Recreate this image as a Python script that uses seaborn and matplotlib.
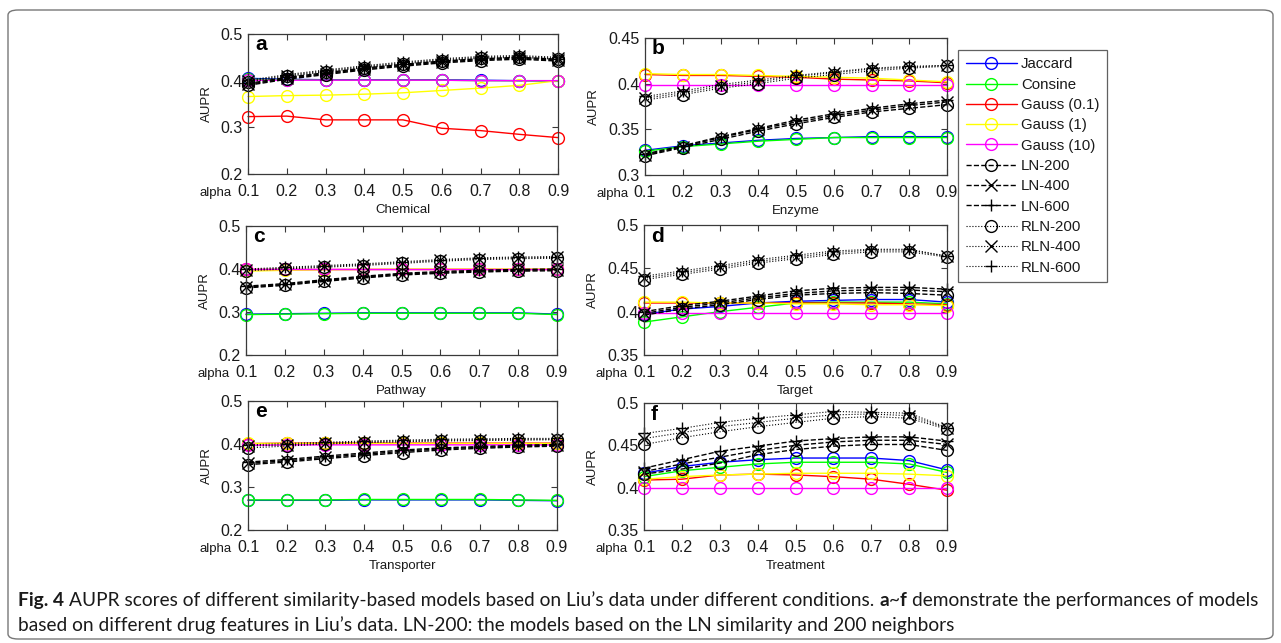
import matplotlib
matplotlib.use("Agg")
import matplotlib.pyplot as plt
from matplotlib.patches import FancyBboxPatch
import seaborn as sns

W, H = 1281, 643

# ---------------- data ----------------
alpha = [0.1, 0.2, 0.3, 0.4, 0.5, 0.6, 0.7, 0.8, 0.9]
alpha_labels = ["0.1", "0.2", "0.3", "0.4", "0.5", "0.6", "0.7", "0.8", "0.9"]
models = ["Jaccard", "Consine", "Gauss (0.1)", "Gauss (1)", "Gauss (10)",
          "LN-200", "LN-400", "LN-600", "RLN-200", "RLN-400", "RLN-600"]
panel_letters = ["a", "b", "c", "d", "e", "f"]
panel_features = ["Chemical", "Enzyme", "Pathway", "Target", "Transporter", "Treatment"]
yticks_a = [0.2, 0.3, 0.4, 0.5]
yticks_b = [0.3, 0.35, 0.4, 0.45]
yticks_c = [0.2, 0.3, 0.4, 0.5]
yticks_d = [0.35, 0.4, 0.45, 0.5]
yticks_e = [0.2, 0.3, 0.4, 0.5]
yticks_f = [0.35, 0.4, 0.45, 0.5]

# (a) Chemical
chem_jaccard = [0.405, 0.403, 0.402, 0.402, 0.402, 0.402, 0.401, 0.400, 0.400]
chem_consine = [0.403, 0.402, 0.401, 0.401, 0.401, 0.401, 0.400, 0.400, 0.399]
chem_gauss01 = [0.323, 0.324, 0.316, 0.316, 0.316, 0.298, 0.293, 0.285, 0.278]
chem_gauss1 = [0.366, 0.368, 0.369, 0.371, 0.374, 0.379, 0.384, 0.390, 0.400]
chem_gauss10 = [0.401, 0.401, 0.401, 0.401, 0.401, 0.401, 0.400, 0.400, 0.400]
chem_ln200 = [0.390, 0.403, 0.413, 0.423, 0.431, 0.438, 0.443, 0.446, 0.442]
chem_ln400 = [0.392, 0.405, 0.415, 0.425, 0.433, 0.440, 0.445, 0.448, 0.444]
chem_ln600 = [0.394, 0.407, 0.417, 0.427, 0.435, 0.442, 0.447, 0.450, 0.446]
chem_rln200 = [0.397, 0.409, 0.419, 0.428, 0.436, 0.443, 0.448, 0.450, 0.446]
chem_rln400 = [0.399, 0.411, 0.421, 0.430, 0.438, 0.445, 0.450, 0.452, 0.448]
chem_rln600 = [0.401, 0.413, 0.423, 0.432, 0.440, 0.447, 0.452, 0.454, 0.450]

# (b) Enzyme
enz_jaccard = [0.327, 0.332, 0.335, 0.338, 0.340, 0.341, 0.342, 0.342, 0.342]
enz_consine = [0.326, 0.331, 0.334, 0.337, 0.339, 0.341, 0.341, 0.341, 0.341]
enz_gauss01 = [0.410, 0.409, 0.409, 0.408, 0.407, 0.405, 0.404, 0.403, 0.401]
enz_gauss1 = [0.411, 0.410, 0.410, 0.409, 0.408, 0.407, 0.406, 0.404, 0.402]
enz_gauss10 = [0.399, 0.399, 0.399, 0.399, 0.399, 0.399, 0.399, 0.399, 0.399]
enz_ln200 = [0.321, 0.330, 0.339, 0.348, 0.356, 0.363, 0.369, 0.373, 0.377]
enz_ln400 = [0.322, 0.331, 0.341, 0.350, 0.358, 0.365, 0.371, 0.376, 0.380]
enz_ln600 = [0.323, 0.332, 0.342, 0.351, 0.360, 0.367, 0.373, 0.378, 0.382]
enz_rln200 = [0.382, 0.388, 0.395, 0.400, 0.406, 0.410, 0.414, 0.417, 0.419]
enz_rln400 = [0.384, 0.390, 0.397, 0.402, 0.408, 0.412, 0.416, 0.418, 0.420]
enz_rln600 = [0.386, 0.392, 0.399, 0.404, 0.409, 0.413, 0.417, 0.419, 0.420]

# (c) Pathway
path_jaccard = [0.295, 0.296, 0.297, 0.298, 0.298, 0.298, 0.298, 0.298, 0.295]
path_consine = [0.294, 0.295, 0.296, 0.297, 0.297, 0.297, 0.297, 0.297, 0.294]
path_gauss01 = [0.400, 0.400, 0.400, 0.400, 0.400, 0.400, 0.400, 0.400, 0.400]
path_gauss1 = [0.395, 0.397, 0.398, 0.399, 0.400, 0.400, 0.400, 0.400, 0.400]
path_gauss10 = [0.401, 0.401, 0.401, 0.401, 0.401, 0.401, 0.401, 0.401, 0.401]
path_ln200 = [0.356, 0.362, 0.371, 0.379, 0.386, 0.390, 0.393, 0.395, 0.396]
path_ln400 = [0.358, 0.364, 0.373, 0.381, 0.388, 0.392, 0.395, 0.397, 0.398]
path_ln600 = [0.360, 0.366, 0.375, 0.383, 0.390, 0.394, 0.397, 0.399, 0.400]
path_rln200 = [0.396, 0.400, 0.404, 0.408, 0.413, 0.418, 0.422, 0.424, 0.425]
path_rln400 = [0.398, 0.402, 0.406, 0.410, 0.415, 0.420, 0.424, 0.426, 0.427]
path_rln600 = [0.400, 0.404, 0.408, 0.412, 0.417, 0.422, 0.426, 0.428, 0.429]

# (d) Target
targ_jaccard = [0.397, 0.403, 0.406, 0.410, 0.412, 0.413, 0.414, 0.414, 0.411]
targ_consine = [0.388, 0.394, 0.400, 0.405, 0.410, 0.411, 0.411, 0.411, 0.409]
targ_gauss01 = [0.410, 0.410, 0.410, 0.410, 0.410, 0.410, 0.410, 0.409, 0.408]
targ_gauss1 = [0.411, 0.411, 0.410, 0.410, 0.409, 0.409, 0.408, 0.408, 0.407]
targ_gauss10 = [0.399, 0.399, 0.399, 0.399, 0.399, 0.399, 0.399, 0.399, 0.399]
targ_ln200 = [0.396, 0.403, 0.408, 0.414, 0.419, 0.421, 0.422, 0.421, 0.419]
targ_ln400 = [0.398, 0.405, 0.410, 0.416, 0.421, 0.424, 0.425, 0.425, 0.423]
targ_ln600 = [0.400, 0.407, 0.412, 0.418, 0.424, 0.427, 0.428, 0.428, 0.426]
targ_rln200 = [0.437, 0.443, 0.449, 0.456, 0.461, 0.466, 0.469, 0.469, 0.463]
targ_rln400 = [0.439, 0.445, 0.451, 0.458, 0.463, 0.468, 0.471, 0.471, 0.464]
targ_rln600 = [0.441, 0.447, 0.453, 0.460, 0.465, 0.470, 0.472, 0.472, 0.464]

# (e) Transporter
trans_jaccard = [0.269, 0.269, 0.269, 0.270, 0.270, 0.270, 0.270, 0.269, 0.268]
trans_consine = [0.270, 0.270, 0.270, 0.271, 0.271, 0.271, 0.271, 0.270, 0.269]
trans_gauss01 = [0.401, 0.402, 0.402, 0.402, 0.402, 0.402, 0.402, 0.402, 0.402]
trans_gauss1 = [0.403, 0.403, 0.403, 0.403, 0.403, 0.403, 0.403, 0.403, 0.403]
trans_gauss10 = [0.397, 0.398, 0.398, 0.398, 0.398, 0.398, 0.398, 0.398, 0.398]
trans_ln200 = [0.352, 0.358, 0.366, 0.373, 0.380, 0.386, 0.390, 0.393, 0.395]
trans_ln400 = [0.355, 0.361, 0.369, 0.376, 0.383, 0.389, 0.392, 0.395, 0.397]
trans_ln600 = [0.358, 0.364, 0.372, 0.379, 0.386, 0.391, 0.394, 0.397, 0.399]
trans_rln200 = [0.391, 0.395, 0.400, 0.403, 0.405, 0.407, 0.408, 0.409, 0.410]
trans_rln400 = [0.395, 0.398, 0.402, 0.405, 0.407, 0.409, 0.410, 0.411, 0.411]
trans_rln600 = [0.398, 0.401, 0.404, 0.407, 0.409, 0.411, 0.412, 0.413, 0.413]

# (f) Treatment
treat_jaccard = [0.417, 0.425, 0.430, 0.433, 0.435, 0.435, 0.435, 0.432, 0.421]
treat_consine = [0.413, 0.420, 0.424, 0.428, 0.430, 0.430, 0.430, 0.428, 0.418]
treat_gauss01 = [0.409, 0.410, 0.415, 0.416, 0.415, 0.413, 0.410, 0.404, 0.397]
treat_gauss1 = [0.410, 0.413, 0.415, 0.416, 0.417, 0.417, 0.417, 0.416, 0.414]
treat_gauss10 = [0.400, 0.400, 0.400, 0.400, 0.400, 0.400, 0.400, 0.400, 0.400]
treat_ln200 = [0.416, 0.422, 0.429, 0.439, 0.445, 0.449, 0.451, 0.451, 0.444]
treat_ln400 = [0.419, 0.428, 0.436, 0.444, 0.450, 0.454, 0.456, 0.456, 0.451]
treat_ln600 = [0.423, 0.433, 0.443, 0.449, 0.455, 0.458, 0.460, 0.460, 0.455]
treat_rln200 = [0.451, 0.459, 0.466, 0.472, 0.477, 0.482, 0.484, 0.482, 0.469]
treat_rln400 = [0.458, 0.465, 0.472, 0.477, 0.482, 0.486, 0.487, 0.485, 0.470]
treat_rln600 = [0.464, 0.470, 0.477, 0.482, 0.486, 0.490, 0.489, 0.488, 0.471]

caption_line1 = [("Fig. 4", "bold"),
                 (" AUPR scores of different similarity-based models based on Liu\u2019s data under different conditions. ", "normal"),
                 ("a", "bold"), ("~", "normal"), ("f", "bold"),
                 (" demonstrate the performances of models", "normal")]
caption_line2 = [("based on different drug features in Liu\u2019s data. LN-200: the models based on the LN similarity and 200 neighbors", "normal")]

panels_data = [
    [chem_jaccard, chem_consine, chem_gauss01, chem_gauss1, chem_gauss10,
     chem_ln200, chem_ln400, chem_ln600, chem_rln200, chem_rln400, chem_rln600],
    [enz_jaccard, enz_consine, enz_gauss01, enz_gauss1, enz_gauss10,
     enz_ln200, enz_ln400, enz_ln600, enz_rln200, enz_rln400, enz_rln600],
    [path_jaccard, path_consine, path_gauss01, path_gauss1, path_gauss10,
     path_ln200, path_ln400, path_ln600, path_rln200, path_rln400, path_rln600],
    [targ_jaccard, targ_consine, targ_gauss01, targ_gauss1, targ_gauss10,
     targ_ln200, targ_ln400, targ_ln600, targ_rln200, targ_rln400, targ_rln600],
    [trans_jaccard, trans_consine, trans_gauss01, trans_gauss1, trans_gauss10,
     trans_ln200, trans_ln400, trans_ln600, trans_rln200, trans_rln400, trans_rln600],
    [treat_jaccard, treat_consine, treat_gauss01, treat_gauss1, treat_gauss10,
     treat_ln200, treat_ln400, treat_ln600, treat_rln200, treat_rln400, treat_rln600],
]
panels_yticks = [yticks_a, yticks_b, yticks_c, yticks_d, yticks_e, yticks_f]

# ---------------- styles ----------------
model_colors = ["#0000ff", "#00ff00", "#ff0000", "#ffff00", "#ff00ff",
                "black", "black", "black", "black", "black", "black"]
model_ls = ["-", "-", "-", "-", "-", "--", "--", "--", ":", ":", ":"]
model_lw = [1.0, 1.0, 1.0, 1.0, 1.0, 1.0, 1.0, 1.0, 0.8, 0.8, 0.8]
model_markers = ["o", "o", "o", "o", "o", "o", "x", "+", "o", "x", "+"]

# axes boxes in pixels: left, right, top, bottom
panel_boxes = [(248, 558, 34, 174), (645, 947, 38, 175),
               (246, 557, 226, 355), (644, 947, 225, 355),
               (248, 557, 401, 530), (644, 947, 403, 530)]

sns.set_theme(style="white")
plt.rcParams["font.family"] = ["Liberation Sans", "DejaVu Sans"]
plt.rcParams["axes.edgecolor"] = "#3a3a3a"
plt.rcParams["axes.linewidth"] = 0.9

fig = plt.figure(figsize=(W / 100, H / 100), dpi=100)
fig.patch.set_facecolor("white")

spine_col = "#3a3a3a"
text_col = "#1a1a1a"
axes = []
for p in range(6):
    l, r, t, b = panel_boxes[p]
    ax = fig.add_axes([l / W, 1 - b / H, (r - l) / W, (b - t) / H])
    axes.append(ax)
    ax.set_facecolor("white")
    for i, name in enumerate(models):
        sns.lineplot(x=alpha, y=panels_data[p][i], ax=ax, color=model_colors[i],
                     linestyle=model_ls[i], linewidth=model_lw[i],
                     marker=model_markers[i], markersize=8.5,
                     markerfacecolor="none", markeredgecolor=model_colors[i],
                     markeredgewidth=1.0, clip_on=False, label=name, legend=False)
    if ax.get_legend() is not None:
        ax.get_legend().remove()
    yt = panels_yticks[p]
    ax.set_xlim(0.1, 0.9)
    ax.set_ylim(yt[0], yt[-1])
    ax.set_xticks(alpha)
    ax.set_xticklabels(alpha_labels)
    ax.set_yticks(yt)
    ax.set_yticklabels([f"{v:g}" for v in yt])
    ax.tick_params(axis="both", which="both", direction="in", top=True, right=True,
                   bottom=True, left=True, length=4, width=0.8, color=spine_col,
                   labelsize=11.5, labelcolor=text_col)
    ax.tick_params(axis="x", pad=7)
    ax.tick_params(axis="y", pad=4)
    for s in ax.spines.values():
        s.set_color(spine_col)
        s.set_linewidth(0.9)
    wpx = r - l
    hpx = b - t
    ax.set_xlabel(panel_features[p], fontsize=9.5, color=text_col)
    ax.xaxis.set_label_coords(0.5, -36 / hpx)
    ax.xaxis.label.set_va("center")
    ax.set_ylabel("AUPR", fontsize=9.5, color=text_col)
    ylab_off = 41 if p in (0, 2, 4) else 51
    ax.yaxis.set_label_coords(-ylab_off / wpx, 0.5)
    ax.yaxis.label.set_va("center")
    ax.annotate("alpha", xy=(0, 0), xycoords="axes fraction", xytext=(-16, -19),
                textcoords="offset pixels", ha="right", va="center", fontsize=9.5,
                color=text_col)
    ax.annotate(panel_letters[p], xy=(0, 1), xycoords="axes fraction", xytext=(7, -11),
                textcoords="offset pixels", ha="left", va="center", fontsize=15,
                fontweight="bold", color="black")

# legend
handles, labels = axes[1].get_legend_handles_labels()
leg = fig.legend(handles, labels, loc="upper left",
                 bbox_to_anchor=(958 / W, 1 - 50 / H), bbox_transform=fig.transFigure,
                 frameon=True, fancybox=False, fontsize=10.8, handlelength=3.4,
                 handletextpad=0.3, labelspacing=0.42, borderpad=0.5,
                 borderaxespad=0.0, numpoints=1)
leg.get_frame().set_edgecolor(spine_col)
leg.get_frame().set_linewidth(0.9)
for t in leg.get_texts():
    t.set_color(text_col)

# outer rounded border
border = FancyBboxPatch((8 / W, 4 / H), (1273 - 8) / W, (640 - 11) / H,
                        boxstyle="round,pad=0,rounding_size=0.008",
                        transform=fig.transFigure, facecolor="none",
                        edgecolor="#777777", linewidth=1.0)
fig.patches.append(border)

# caption
renderer = fig.canvas.get_renderer()
cap_family = ["Lato", "DejaVu Sans"]


def advance(s, size, weight):
    t1 = fig.text(0, 0, "X" + s + "X", fontsize=size, fontweight=weight, family=cap_family)
    t2 = fig.text(0, 0, "XX", fontsize=size, fontweight=weight, family=cap_family)
    w = t1.get_window_extent(renderer).width - t2.get_window_extent(renderer).width
    t1.remove()
    t2.remove()
    return w


base = 10.0
total = sum(advance(s, base, w) for s, w in caption_line1)
cap_size = base * (1245.0 / total)


def draw_line(segs, x0, y0):
    x = x0
    for s, w in segs:
        lead = s[: len(s) - len(s.lstrip(" "))]
        xs = x + (advance(lead, cap_size, w) if lead else 0)
        fig.text(xs / W, 1 - y0 / H, s.strip(" "), fontsize=cap_size, fontweight=w,
                 family=cap_family, ha="left", va="baseline", color=text_col)
        x += advance(s, cap_size, w)


draw_line(caption_line1, 18, 606)
draw_line(caption_line2, 18, 631)

fig.savefig("out.png", dpi=100, facecolor="white")
